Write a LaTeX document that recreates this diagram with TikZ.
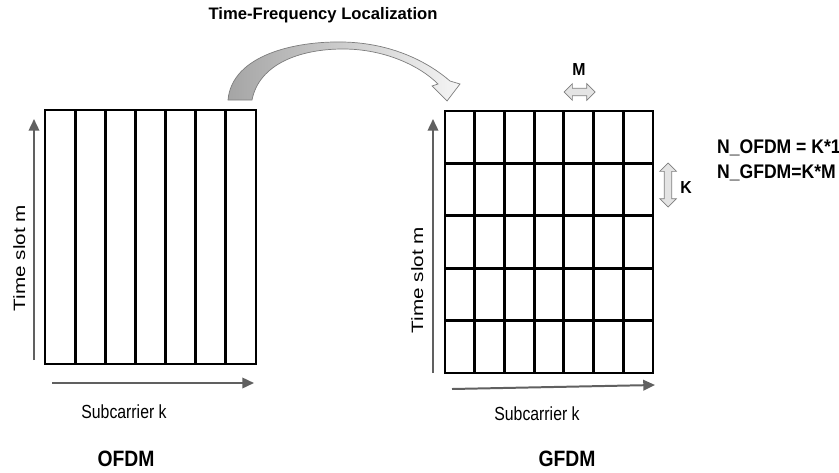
\documentclass[tikz,border=0pt]{standalone}
\usepackage{fontspec}
\setmainfont{Liberation Sans}
\usepackage{tikz}
\usetikzlibrary{arrows.meta, shapes.arrows}
\definecolor{axisgray}{RGB}{96,96,96}
\definecolor{arrowedge}{RGB}{125,125,125}
\definecolor{arrowfill}{RGB}{228,228,228}
\definecolor{curvedark}{RGB}{165,165,165}
\definecolor{curvelight}{RGB}{245,245,245}
\tikzset{
  gridline/.style={line width=2.5pt, color=black},
  axis/.style={-{Triangle[length=10pt, width=9pt]}, line width=1.7pt, color=axisgray},
  axislabel/.style={font=\fontsize{13.5}{16}\selectfont, anchor=base, yscale=1.2},
  timelabel/.style={font=\fontsize{14}{16}\selectfont, anchor=base, rotate=90, xscale=1.26},
  schemelabel/.style={font=\fontsize{16.5}{19}\selectfont\bfseries, anchor=base, yscale=1.15},
  formula/.style={font=\fontsize{15}{18}\selectfont\bfseries, anchor=base west, yscale=1.12},
  dimlabel/.style={font=\fontsize{13.5}{16}\selectfont\bfseries, anchor=base, yscale=1.1},
  dimarrow/.style={double arrow, draw=arrowedge, fill=arrowfill, line width=0.6pt,
    inner sep=0.1cm, double arrow head extend=0.14cm}
}

\begin{document}
\begin{tikzpicture}[x=0.03cm, y=-0.03cm]
  \useasboundingbox (0,0) rectangle (839,472);

  % title and localization arrow
  \node[font=\fontsize{14.2}{17}\selectfont\bfseries, anchor=base] (title) at (323,19) {Time-Frequency Localization};
  \path[draw=arrowedge, line width=0.6pt, left color=curvedark, right color=curvelight]
    (228,100) .. controls (232,55) and (295,41) .. (343,42)
    .. controls (392,43) and (428,62) .. (450,81)
    -- (460,84) -- (447,101) -- (432,86) -- (438,84)
    .. controls (420,66) and (385,49) .. (343,49)
    .. controls (300,49) and (259,64) .. (252,100) -- cycle;

  % OFDM grid
  \coordinate (ofdmNW) at (45,110);
  \coordinate (ofdmSE) at (256,364);
  \draw[gridline] (ofdmNW) rectangle (ofdmSE);
  \foreach \i in {1,...,6}
    \draw[gridline] (45+\i*30.14,110) -- (45+\i*30.14,364);

  \coordinate (ofdmT0) at (34,360);
  \coordinate (ofdmT1) at (34,119);
  \coordinate (ofdmF0) at (52,383);
  \coordinate (ofdmF1) at (254,383);
  \draw[axis] (ofdmT0) -- (ofdmT1);
  \draw[axis] (ofdmF0) -- (ofdmF1);
  \node[timelabel] (ofdmTime) at (25,258) {Time slot m};
  \node[axislabel] (ofdmSub) at (124,418) {Subcarrier k};
  \node[schemelabel] (ofdm) at (126,466) {OFDM};

  % GFDM grid
  \coordinate (gfdmNW) at (445,111);
  \coordinate (gfdmSE) at (653,373);
  \draw[gridline] (gfdmNW) rectangle (gfdmSE);
  \foreach \i in {1,...,6}
    \draw[gridline] (445+\i*29.71,111) -- (445+\i*29.71,373);
  \foreach \j in {1,...,4}
    \draw[gridline] (445,111+\j*52.4) -- (653,111+\j*52.4);

  \coordinate (gfdmT0) at (433,373);
  \coordinate (gfdmT1) at (433,119);
  \coordinate (gfdmF0) at (452,389);
  \coordinate (gfdmF1) at (655,385);
  \draw[axis] (gfdmT0) -- (gfdmT1);
  \draw[axis] (gfdmF0) -- (gfdmF1);
  \node[timelabel] (gfdmTime) at (423,280) {Time slot m};
  \node[axislabel] (gfdmSub) at (537,420) {Subcarrier k};
  \node[schemelabel] (gfdm) at (567,466) {GFDM};

  % M and K spans
  \node[dimarrow, minimum height=0.93cm] (mArrow) at (579.5,92) {};
  \node[dimlabel] (mLabel) at (579,75) {M};
  \node[dimarrow, minimum height=1.32cm, rotate=90] (kArrow) at (668,185) {};
  \node[dimlabel] (kLabel) at (686,193) {K};

  \node[formula] (nOfdm) at (713,153) {N\_OFDM = K*1};
  \node[formula] (nGfdm) at (713,178) {N\_GFDM=K*M};
\end{tikzpicture}
\end{document}
